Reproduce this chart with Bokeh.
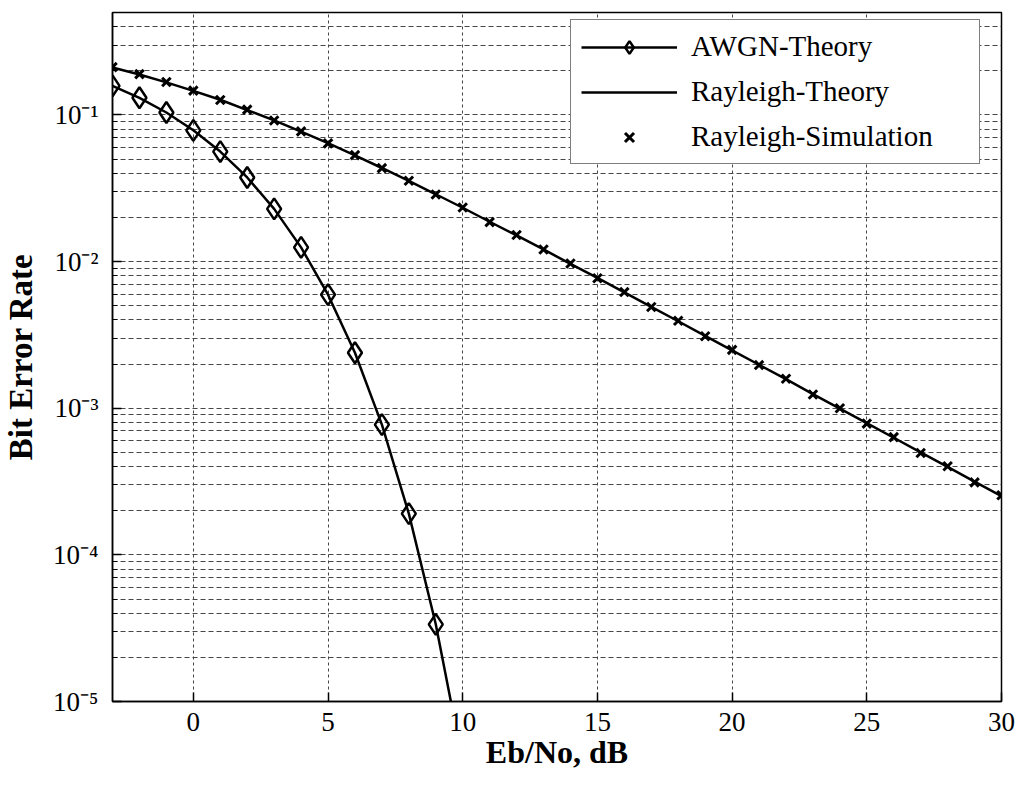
from bokeh.plotting import figure
from bokeh.models import (FixedTicker, CustomJSTickFormatter,
                          Legend, LegendItem, Range1d)
from bokeh.embed import file_html
from bokeh.resources import INLINE

# ---------------- data ----------------
awgn_snr_db = [-3, -2, -1, 0, 1, 2, 3, 4, 5, 6, 7, 8, 9, 10]
awgn_ber = [0.158, 0.131, 0.104, 0.0786, 0.0563, 0.0375, 0.0229, 0.0125,
            0.00595, 0.00239, 0.000773, 0.000191, 0.0000336, 0.00000387]

snr_db = list(range(-3, 31))
rayleigh_theory = [0.211, 0.189, 0.167, 0.146, 0.127, 0.108, 0.0919, 0.0771,
                   0.0642, 0.0530, 0.0435, 0.0355, 0.0288, 0.0233, 0.0187, 0.0151,
                   0.0121, 0.00966, 0.00774, 0.00617, 0.00492, 0.00392, 0.00312,
                   0.00248, 0.00198, 0.00158, 0.00125, 0.000995, 0.000792, 0.000629,
                   0.000500, 0.000398, 0.000316, 0.000251]
rayleigh_sim = [0.212, 0.190, 0.168, 0.1465, 0.1265, 0.1088, 0.0917, 0.0773,
                0.0640, 0.0532, 0.0434, 0.0356, 0.0287, 0.0234, 0.0186, 0.0152,
                0.0121, 0.00970, 0.00770, 0.00620, 0.00490, 0.00395, 0.00310,
                0.00250, 0.00197, 0.00159, 0.00124, 0.00100, 0.000785, 0.000635,
                0.000495, 0.000402, 0.000312, 0.000255]

x_ticks = [0, 5, 10, 15, 20, 25, 30]
y_major = [1e-5, 1e-4, 1e-3, 1e-2, 1e-1]
y_minor = [m * d for d in y_major for m in range(2, 10) if m * d <= 0.5]

series_labels = ["AWGN-Theory", "Rayleigh-Theory", "Rayleigh-Simulation"]
x_title = "Eb/No, dB"
y_title = "Bit Error Rate"

FONT = "Liberation Serif"
GRID = "#474747"

p = figure(width=1029, height=786, y_axis_type="log",
           x_range=Range1d(-3, 30), y_range=Range1d(1e-5, 0.5),
           output_backend="svg", toolbar_location=None,
           min_border_left=112, min_border_right=28, min_border_top=12,
           min_border_bottom=85,
           background_fill_color="white", border_fill_color="white")
p.outline_line_color = "black"
p.outline_line_width = 1.5

xt = FixedTicker(ticks=x_ticks, minor_ticks=[])
yt = FixedTicker(ticks=y_major, minor_ticks=y_minor)

# bottom axis
p.xaxis.ticker = xt
p.xgrid.ticker = xt
p.xaxis.major_label_text_font = FONT
p.xaxis.major_label_text_font_size = "27px"
p.xaxis.major_label_text_color = "black"
p.xaxis.major_label_standoff = 11
p.xaxis.major_tick_in = 9
p.xaxis.major_tick_out = 0
p.xaxis.minor_tick_line_color = None
p.xaxis.axis_line_width = 1.5
p.xaxis.major_tick_line_width = 1.5
p.xaxis.axis_label = x_title
p.xaxis.axis_label_text_font = FONT
p.xaxis.axis_label_text_font_style = "bold"
p.xaxis.axis_label_text_font_size = "32px"
p.xaxis.axis_label_text_color = "black"
p.xaxis.axis_label_standoff = 0

# left axis: 10 with superscript exponent
p.yaxis.ticker = yt
p.ygrid.ticker = yt
p.yaxis.formatter = CustomJSTickFormatter(code="""
const sup = {'-': '\\u207b', '0': '\\u2070', '1': '\\u00b9', '2': '\\u00b2',
             '3': '\\u00b3', '4': '\\u2074', '5': '\\u2075', '6': '\\u2076',
             '7': '\\u2077', '8': '\\u2078', '9': '\\u2079'};
const e = Math.round(Math.log10(tick));
return '10' + String(e).split('').map(c => sup[c]).join('');
""")
p.yaxis.major_label_text_font = FONT
p.yaxis.major_label_text_font_size = "27px"
p.yaxis.major_label_text_color = "black"
p.yaxis.major_label_standoff = 14
p.yaxis.major_tick_in = 9
p.yaxis.major_tick_out = 0
p.yaxis.minor_tick_in = 5
p.yaxis.minor_tick_out = 0
p.yaxis.axis_line_width = 1.5
p.yaxis.major_tick_line_width = 1.5
p.yaxis.axis_label = y_title
p.yaxis.axis_label_text_font = FONT
p.yaxis.axis_label_text_font_style = "bold"
p.yaxis.axis_label_text_font_size = "33px"
p.yaxis.axis_label_text_color = "black"
p.yaxis.axis_label_standoff = 11

# grid
p.xgrid.grid_line_color = GRID
p.xgrid.grid_line_dash = "3 3"
p.xgrid.grid_line_width = 1
p.ygrid.grid_line_color = GRID
p.ygrid.grid_line_dash = "5 3"
p.ygrid.grid_line_width = 1
p.ygrid.minor_grid_line_color = GRID
p.ygrid.minor_grid_line_dash = "5 3"
p.ygrid.minor_grid_line_width = 1

# series
awgn_line = p.line(awgn_snr_db, awgn_ber, line_color="black", line_width=2.5)
awgn_pts = p.scatter(awgn_snr_db, awgn_ber, marker="diamond", size=21,
                     fill_color=None, line_color="black", line_width=2.5)
ray_line = p.line(snr_db, rayleigh_theory, line_color="black", line_width=2.5)
sim_pts = p.scatter(snr_db, rayleigh_sim, marker="x", size=12,
                    line_color="black", line_width=3)

legend = Legend(items=[
    LegendItem(label=series_labels[0], renderers=[awgn_line, awgn_pts]),
    LegendItem(label=series_labels[1], renderers=[ray_line]),
    LegendItem(label=series_labels[2], renderers=[sim_pts]),
], location=(458, 537))
legend.label_text_font = FONT
legend.label_text_font_size = "29px"
legend.label_text_color = "black"
legend.glyph_width = 96
legend.glyph_height = 32
legend.label_height = 32
legend.label_width = 278
legend.label_standoff = 14
legend.spacing = 12
legend.padding = 10
legend.margin = 0
legend.border_line_color = "black"
legend.border_line_width = 1.5
legend.background_fill_color = "white"
legend.background_fill_alpha = 1.0
p.add_layout(legend)

open("out.html", "w", encoding="utf-8").write(file_html(p, INLINE))
